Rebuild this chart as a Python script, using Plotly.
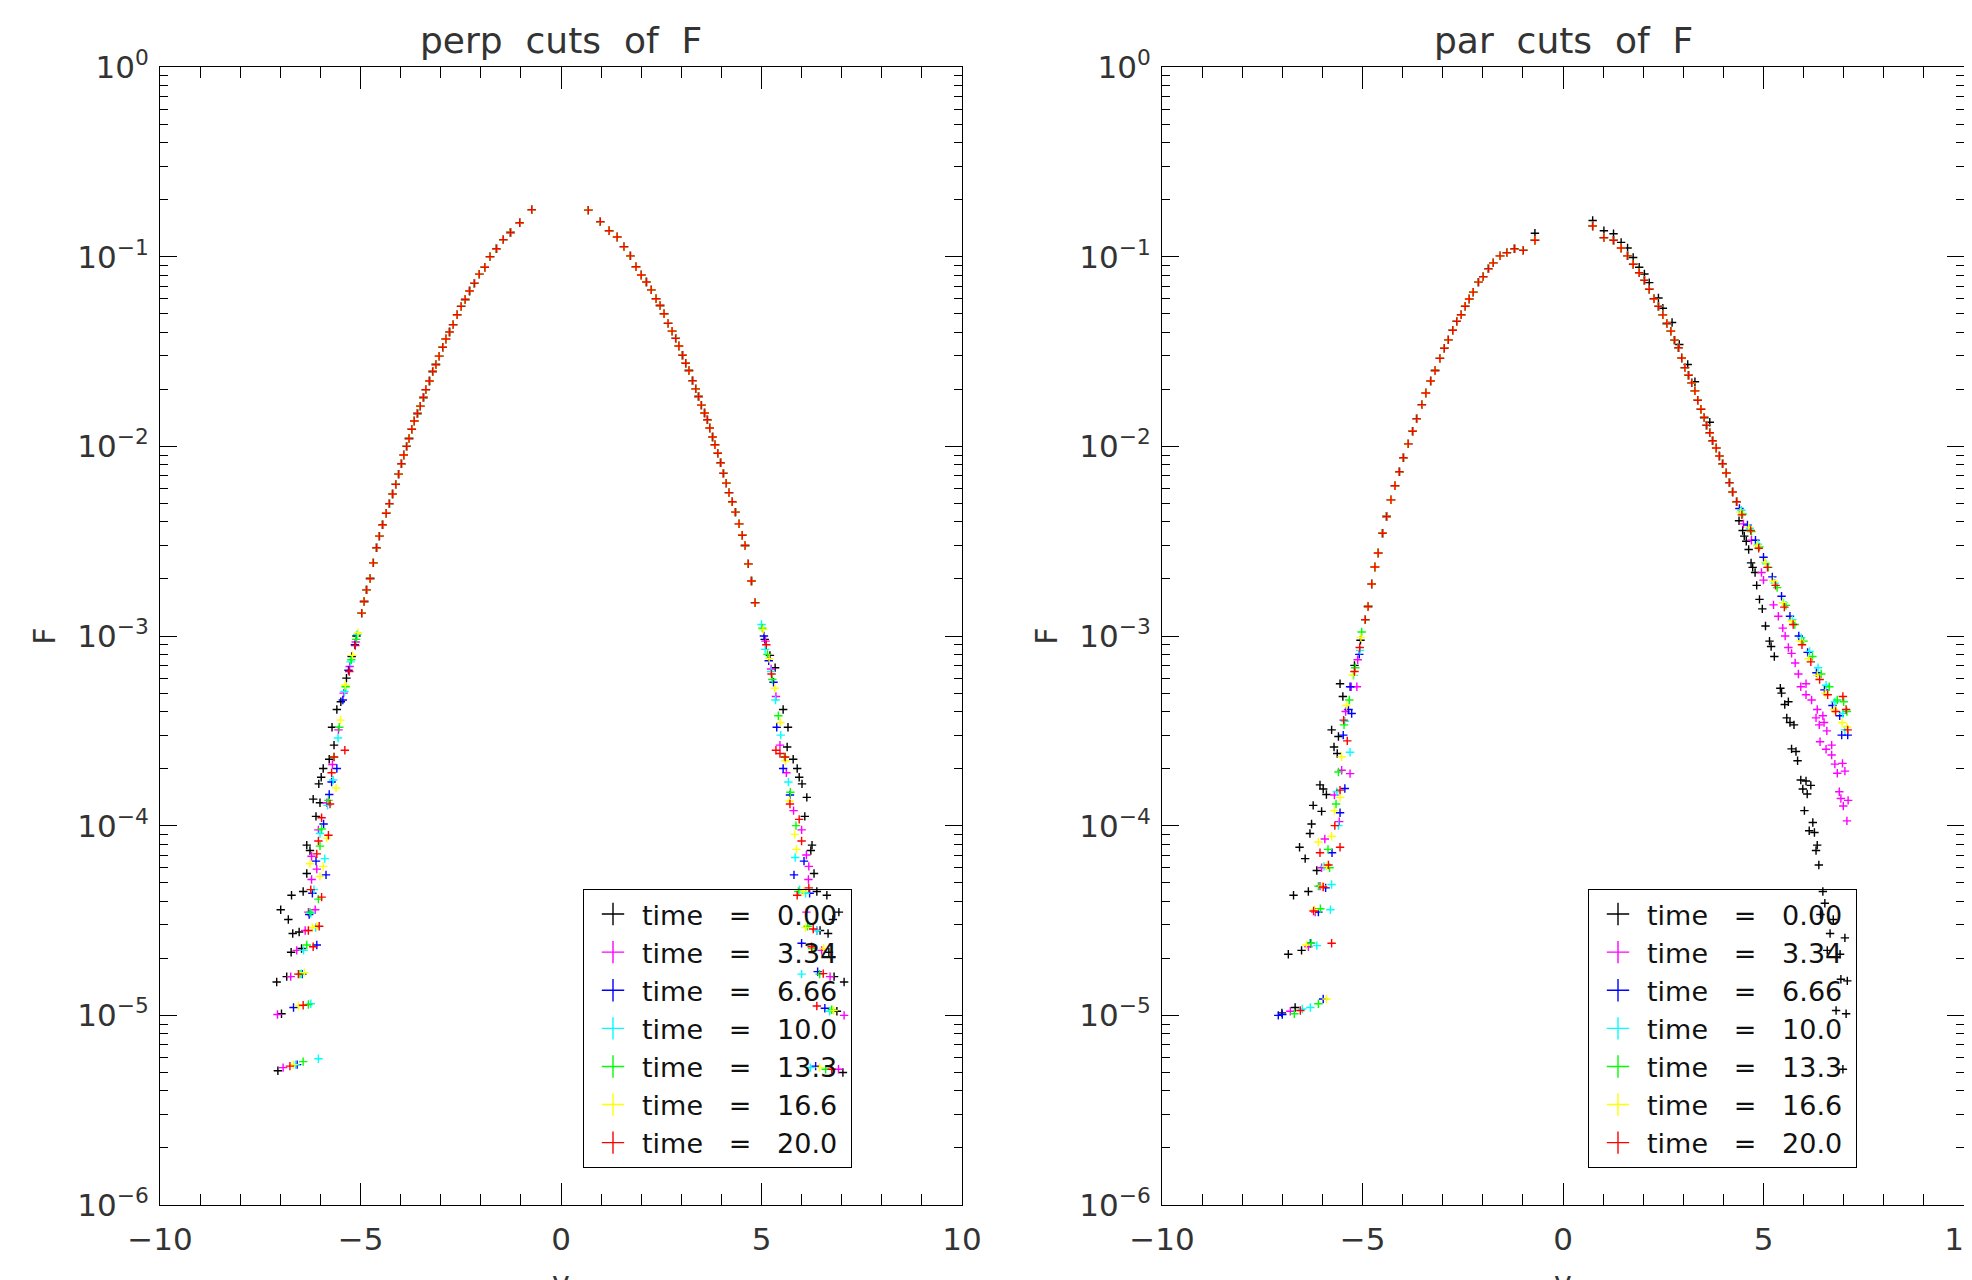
import plotly.graph_objects as go

# ---------------- data ----------------
TIME_LABELS = ["0.00", "3.34", "6.66", "10.0", "13.3", "16.6", "20.0"]
COLORS = ["#000000", "#ff00ff", "#0000ff", "#00ffff", "#00ff00", "#ffff00", "#ff0000"]
PANEL_TITLES = ["perp\u00a0\u00a0cuts\u00a0\u00a0of\u00a0\u00a0F", "par\u00a0\u00a0cuts\u00a0\u00a0of\u00a0\u00a0F"]
X_TITLE = "v"
Y_TITLE = "F"
X_TICKS = [-10, -5, 0, 5, 10]
Y_TICK_EXP = [0, -1, -2, -3, -4, -5, -6]

# perp panel: points shared by every time (curves overlap there)
PERP_CORE_V = [-0.73, -1.03, -1.26, -1.44, -1.61, -1.77, -1.90, -2.04, -2.16, -2.28,
               -2.39, -2.49, -2.59, -2.69, -2.78, -2.87, -2.95, -3.04, -3.12, -3.20,
               -3.28, -3.37, -3.43, -3.51, -3.58, -3.66, -3.72, -3.79, -3.85, -3.92, -3.98,
               -4.05, -4.12, -4.20, -4.28, -4.36, -4.45, -4.53, -4.60, -4.68, -4.76,
               -4.85, -4.91, -4.97,
               0.68, 0.98, 1.20, 1.40, 1.57, 1.73, 1.87, 2.00, 2.13, 2.25,
               2.37, 2.47, 2.57, 2.67, 2.77, 2.86, 2.94, 3.03, 3.11, 3.19,
               3.28, 3.36, 3.43, 3.50, 3.58, 3.65, 3.71, 3.78, 3.84, 3.91,
               3.98, 4.05, 4.12, 4.19, 4.27, 4.35, 4.44, 4.52, 4.59, 4.67,
               4.75, 4.84]
PERP_CORE_F = [0.177, 0.151, 0.134, 0.123, 0.110, 0.100, 0.0879, 0.0809, 0.0723, 0.0659,
               0.0594, 0.0547, 0.0494, 0.0438, 0.0401, 0.0368, 0.0333, 0.0299, 0.0270, 0.0248,
               0.0221, 0.0199, 0.0181, 0.0163, 0.0149, 0.0136, 0.0123, 0.0110, 0.0100, 0.0090, 0.0081,
               0.00714, 0.0063, 0.00561, 0.00499, 0.00444, 0.00386, 0.00336, 0.00292, 0.00243, 0.00201,
               0.00175, 0.00152, 0.00132,
               0.176, 0.153, 0.137, 0.127, 0.113, 0.101, 0.0885, 0.080, 0.0735, 0.0668,
               0.0600, 0.0553, 0.0500, 0.0445, 0.0405, 0.0371, 0.0338, 0.0302, 0.0274, 0.0251,
               0.0222, 0.0201, 0.0183, 0.0165, 0.0150, 0.0138, 0.0125, 0.0112, 0.0102, 0.0092,
               0.0082, 0.0072, 0.0064, 0.0057, 0.0051, 0.0045, 0.0039, 0.0034, 0.0030, 0.0024,
               0.00195, 0.00150]

# perp panel: tails, one list per time
PERP_TAIL_V = [
    [-5.10, -5.22, -5.35, -5.49, -5.59, -5.71, -5.66, -5.78, -5.93, -5.98, -6.04, -6.18, -6.01, -6.11,
     -6.34, -6.26, -6.34, -6.72, -6.43, -6.99, -6.80, -6.69, -6.53, -6.73, -6.47, -7.09, -6.84, -6.97, -7.06,
     5.08, 5.21, 5.34, 5.54, 5.66, 5.64, 5.79, 5.89, 5.94, 6.01, 6.13, 6.08, 6.26, 6.23, 6.31, 6.38,
     6.63, 6.93, 6.78, 6.46, 6.66, 6.68, 6.81, 7.06, 6.88, 7.03],
    [-5.12, -5.27, -5.42, -5.55, -5.70, -5.84, -6.05, -6.22, -6.09, -6.22, -6.30, -6.13, -6.38, -6.59,
     -6.74, -7.07, -6.93,
     5.10, 5.24, 5.36, 5.46, 5.62, 5.80, 6.00, 6.12, 6.18, 6.17, 6.12, 6.38, 6.50, 6.71, 7.06, 6.92],
    [-5.14, -5.30, -5.44, -5.59, -5.72, -5.78, -5.92, -6.11, -5.86, -6.20, -6.28, -6.09, -6.45, -6.67, -6.58,
     5.06, 5.18, 5.30, 5.38, 5.54, 5.71, 5.81, 6.06, 6.00, 6.20, 6.40, 6.58, 6.35],
    [-5.08, -5.25, -5.40, -5.56, -5.68, -5.82, -6.01, -5.89, -6.16, -6.24, -6.12, -6.42, -6.47, -6.24,
     -6.05, -6.62,
     5.00, 5.09, 5.24, 5.35, 5.48, 5.67, 5.84, 5.95, 6.10, 6.38, 6.00, 6.70, 6.22],
    [-5.11, -5.23, -5.37, -5.53, -5.66, -5.80, -5.97, -6.01, -6.05, -6.26, -6.34, -6.51, -6.30, -6.43,
     5.02, 5.15, 5.27, 5.42, 5.57, 5.72, 5.86, 5.92, 6.15, 6.26, 6.45, 6.75, 6.60],
    [-5.06, -5.20, -5.38, -5.50, -5.61, -5.84, -6.26, -5.93, -6.01, -6.09, -6.20, -6.55, -6.67, -6.40,
     5.04, 5.19, 5.33, 5.47, 5.60, 5.70, 5.83, 5.87, 6.05, 6.10, 6.55, 6.80, 6.45],
    [-5.13, -5.28, -5.39, -5.66, -5.72, -5.76, -5.97, -6.05, -5.80, -6.09, -6.24, -5.97, -6.30, -6.03,
     -6.18, -6.55, -6.43, -6.76,
     5.12, 5.25, 5.36, 5.46, 5.59, 5.71, 5.94, 6.00, 6.18, 5.89, 6.29, 6.25, 6.54, 6.38, 6.75],
]
PERP_TAIL_F = [
    [1.0e-3, 7.8e-4, 6.0e-4, 4.5e-4, 4.1e-4, 3.3e-4, 2.66e-4, 2.24e-4, 2.0e-4, 1.8e-4, 1.66e-4, 1.38e-4,
     1.32e-4, 1.12e-4, 7.9e-5, 7.4e-5, 5.6e-5, 4.3e-5, 4.5e-5, 3.6e-5, 3.2e-5, 2.7e-5, 2.75e-5, 2.15e-5,
     2.25e-5, 1.5e-5, 1.6e-5, 1.02e-5, 5.1e-6,
     9.6e-4, 7.9e-4, 6.8e-4, 4.1e-4, 3.3e-4, 2.6e-4, 2.24e-4, 2.0e-4, 1.8e-4, 1.66e-4, 1.41e-4, 1.12e-4,
     7.9e-5, 7.4e-5, 5.6e-5, 4.5e-5, 4.3e-5, 3.5e-5, 3.2e-5, 2.8e-5, 2.7e-5, 2.15e-5, 1.6e-5, 1.5e-5,
     1.05e-5, 5.0e-6],
    [9.3e-4, 6.9e-4, 5.0e-4, 3.2e-4, 2.1e-4, 1.32e-4, 9.5e-5, 6.9e-5, 5.9e-5, 5.2e-5, 3.5e-5, 3.6e-5,
     2.8e-5, 2.2e-5, 1.6e-5, 1.01e-5, 5.3e-6,
     9.4e-4, 6.7e-4, 4.8e-4, 2.66e-4, 1.9e-4, 1.2e-4, 9.5e-5, 7.0e-5, 6.1e-5, 5.2e-5, 3.5e-5, 2.8e-5,
     2.2e-5, 1.6e-5, 1.0e-5, 5.2e-6],
    [9.0e-4, 6.6e-4, 4.6e-4, 2.0e-4, 1.7e-4, 1.46e-4, 1.02e-4, 6.5e-5, 5.5e-5, 4.4e-5, 3.4e-5, 2.35e-5,
     1.65e-5, 1.1e-5, 5.5e-6,
     1.0e-3, 7.4e-4, 5.7e-4, 3.3e-4, 2.0e-4, 1.45e-4, 5.5e-5, 6.5e-5, 2.4e-5, 4.4e-5, 1.7e-5, 1.09e-5, 5.4e-6],
    [1.02e-3, 7.3e-4, 5.1e-4, 2.9e-4, 1.74e-4, 1.28e-4, 9.1e-5, 6.7e-5, 4.6e-5, 3.45e-5, 2.9e-5, 2.2e-5,
     1.66e-5, 1.15e-5, 5.9e-6, 5.5e-6,
     1.15e-3, 8.5e-4, 6.5e-4, 4.6e-4, 3.0e-4, 1.7e-4, 6.8e-5, 4.6e-5, 4.4e-5, 2.8e-5, 1.65e-5, 1.05e-5, 5.3e-6],
    [9.6e-4, 7.5e-4, 5.4e-4, 3.3e-4, 2.3e-4, 1.36e-4, 9.6e-5, 7.8e-5, 4.1e-5, 3.5e-5, 2.35e-5, 1.65e-5,
     1.14e-5, 5.7e-6,
     1.1e-3, 8.0e-4, 5.9e-4, 3.8e-4, 2.3e-4, 1.5e-4, 1.0e-4, 4.5e-5, 2.95e-5, 2.25e-5, 1.65e-5, 1.07e-5, 5.2e-6],
    [1.04e-3, 7.9e-4, 5.5e-4, 3.6e-4, 1.58e-4, 8.6e-5, 6.3e-5, 6.1e-5, 5.4e-5, 2.95e-5, 2.9e-5, 1.12e-5,
     5.5e-6, 1.68e-5,
     1.08e-3, 7.6e-4, 5.3e-4, 3.5e-4, 2.2e-4, 1.35e-4, 9.0e-5, 7.5e-5, 4.5e-5, 2.9e-5, 2.25e-5, 1.06e-5, 5.3e-6],
    [8.9e-4, 6.5e-4, 2.5e-4, 2.3e-4, 1.9e-4, 1.3e-4, 1.1e-4, 8.3e-5, 8.9e-5, 7.1e-5, 4.6e-5, 4.2e-5,
     2.8e-5, 2.95e-5, 2.3e-5, 1.65e-5, 1.13e-5, 5.4e-6,
     9.0e-4, 6.3e-4, 2.5e-4, 2.4e-4, 2.3e-4, 1.3e-4, 1.08e-4, 8.3e-5, 4.7e-5, 4.3e-5, 2.85e-5, 2.3e-5,
     1.66e-5, 1.12e-5, 5.2e-6],
]

# par panel: points shared by every time
PAR_CORE_V = [-0.70, -0.99, -1.21, -1.40, -1.57, -1.74, -1.86, -1.99, -2.11, -2.24,
              -2.34, -2.44, -2.54, -2.65, -2.75, -2.86, -2.96, -3.07, -3.19, -3.30,
              -3.42, -3.52, -3.65, -3.75, -3.86, -3.98, -4.08, -4.19, -4.29, -4.40,
              -4.50, -4.61, -4.69, -4.77, -4.86, -4.93,
              0.74, 1.02, 1.26, 1.45, 1.61, 1.75, 1.90, 2.03, 2.15, 2.27,
              2.38, 2.49, 2.59, 2.69, 2.78, 2.88, 2.96, 3.04, 3.13, 3.21,
              3.29, 3.36, 3.44, 3.52, 3.58, 3.66, 3.73, 3.82, 3.90, 3.98,
              4.07, 4.15, 4.23, 4.33]
PAR_CORE_F = [0.122, 0.108, 0.110, 0.105, 0.101, 0.0927, 0.0865, 0.0785, 0.0734, 0.065,
              0.0598, 0.0548, 0.0494, 0.0456, 0.0409, 0.0364, 0.0329, 0.0291, 0.0251, 0.0221,
              0.0191, 0.0166, 0.0140, 0.0120, 0.0103, 0.0087, 0.00735, 0.0062, 0.00522, 0.00427,
              0.00348, 0.00274, 0.00231, 0.00188, 0.00143, 0.00122,
              0.145, 0.126, 0.122, 0.111, 0.101, 0.0912, 0.0822, 0.075, 0.0673, 0.060,
              0.0547, 0.0493, 0.0444, 0.0405, 0.0363, 0.0331, 0.0292, 0.026, 0.0237, 0.0216,
              0.0196, 0.0175, 0.0157, 0.0142, 0.0129, 0.0118, 0.0107, 0.0098, 0.0089, 0.0081,
              0.00723, 0.00644, 0.00574, 0.0051]

# par panel: tails (and black's own offset points), one list per time
PAR_TAIL_V = [
    [-0.70, -5.05, -5.20, -5.56, -5.49, -5.77, -5.60, -5.71, -5.63, -6.06, -5.98, -5.90, -6.23, -6.02,
     -6.27, -6.31, -6.57, -6.43, -6.14, -6.72, -6.35, -6.85, -6.52, -6.68, -7.01,
     0.74, 1.02, 1.26, 1.45, 1.61, 1.75, 1.90, 2.03, 2.15, 2.38, 2.49, 2.72, 2.90, 3.11, 3.29, 3.66,
     4.39, 4.48, 4.52, 4.57, 4.63, 4.69, 4.73, 4.79, 4.83, 4.90, 4.97, 5.05, 5.15, 5.19, 5.27, 5.42,
     5.45, 5.53, 5.62, 5.58, 5.66, 5.76, 5.70, 5.81, 5.85, 5.93, 6.06, 6.18, 5.98, 6.09, 6.02, 6.23,
     6.14, 6.27, 6.34, 6.31, 6.38, 6.48, 6.53, 6.42, 6.74, 6.66, 7.03, 6.59, 6.91, 6.93, 7.09, 6.81,
     7.06, 6.98],
    [-5.12, -5.28, -5.14, -5.42, -5.52, -5.31, -5.70, -5.58, -5.94, -6.02, -6.06, -6.18, -6.35, -6.80,
     4.50, 4.70, 4.95, 5.00, 5.25, 5.37, 5.48, 5.54, 5.62, 5.70, 5.79, 5.87, 5.93, 6.06, 6.06, 6.20,
     6.34, 6.31, 6.48, 6.39, 6.51, 6.58, 6.41, 6.56, 6.70, 6.70, 6.78, 6.97, 6.84, 7.03, 6.89, 6.93,
     7.11, 6.99, 7.08],
    [-5.08, -5.31, -5.35, -5.27, -5.48, -5.44, -5.56, -5.76, -5.92, -6.10, -6.30, -5.98, -7.10, -7.00,
     4.40, 4.60, 4.80, 5.00, 5.22, 5.45, 5.66, 5.88, 6.10, 6.32, 6.52, 6.72, 6.90, 6.95, 7.10],
    [-5.06, -5.22, -5.44, -5.31, -5.64, -5.60, -5.77, -5.96, -6.14, -5.80, -6.50, -6.30,
     4.45, 4.66, 4.86, 5.06, 5.28, 5.50, 5.72, 5.94, 6.15, 6.36, 6.56, 6.78, 6.98, 7.03],
    [-5.02, -5.18, -5.33, -5.46, -5.60, -5.66, -5.82, -6.10, -5.86, -6.05, -6.28, -6.70, -6.10,
     4.48, 4.70, 4.90, 5.12, 5.34, 5.56, 5.78, 6.00, 6.22, 6.44, 6.64, 6.84, 7.00, 7.08],
    [-5.04, -5.25, -5.40, -5.52, -5.56, -5.70, -6.10, -5.77, -5.90, -6.00, -6.40, -5.90, -6.20,
     4.42, 4.63, 4.84, 5.04, 5.25, 5.48, 5.70, 5.92, 6.12, 6.34, 6.54, 6.76, 6.96, 7.08],
    [-5.07, -5.20, -5.38, -5.47, -5.56, -5.69, -5.56, -5.85, -6.06, -5.98, -5.77, -6.22, -6.55,
     4.46, 4.68, 4.88, 5.10, 5.30, 5.52, 5.74, 5.96, 6.18, 6.40, 6.60, 6.80, 6.98, 7.06, 7.10],
]
PAR_TAIL_F = [
    [0.133, 9.5e-4, 7.0e-4, 5.6e-4, 4.8e-4, 3.2e-4, 2.95e-4, 2.6e-4, 2.4e-4, 1.64e-4, 1.56e-4, 1.46e-4,
     1.28e-4, 1.19e-4, 1.02e-4, 9.1e-5, 7.7e-5, 6.7e-5, 5.8e-5, 4.3e-5, 4.5e-5, 2.1e-5, 2.2e-5, 1.1e-5, 1.03e-5,
     0.155, 0.137, 0.132, 0.119, 0.111, 0.099, 0.088, 0.081, 0.073, 0.0605, 0.0535, 0.045, 0.0344, 0.027,
     0.0219, 0.0134,
     4.05e-3, 3.6e-3, 3.36e-3, 3.16e-3, 2.86e-3, 2.43e-3, 2.3e-3, 2.16e-3, 1.85e-3, 1.56e-3, 1.39e-3,
     1.13e-3, 9.4e-4, 8.8e-4, 7.8e-4, 5.3e-4, 5.0e-4, 4.35e-4, 4.5e-4, 3.7e-4, 3.5e-4, 3.4e-4, 2.54e-4,
     2.46e-4, 2.2e-4, 1.74e-4, 1.72e-4, 1.63e-4, 1.56e-4, 1.47e-4, 1.2e-4, 1.04e-4, 9.4e-5, 9.2e-5, 7.9e-5,
     7.4e-5, 6.2e-5, 4.5e-5, 3.9e-5, 3.4e-5, 3.2e-5, 2.7e-5, 2.56e-5, 2.2e-5, 2.1e-5, 1.55e-5, 1.52e-5,
     1.06e-5, 1.02e-5, 5.2e-6],
    [7.5e-4, 5.4e-4, 5.4e-4, 4.0e-4, 1.96e-4, 1.88e-4, 1.45e-4, 1.05e-4, 8.5e-5, 6.0e-5, 4.8e-5, 3.5e-5,
     2.3e-5, 1.05e-5,
     3.9e-3, 3.2e-3, 2.16e-3, 1.97e-3, 1.46e-3, 1.27e-3, 1.1e-3, 1.0e-3, 8.7e-4, 8.1e-4, 7.2e-4, 6.3e-4,
     5.4e-4, 5.6e-4, 4.9e-4, 4.6e-4, 4.1e-4, 3.7e-4, 3.8e-4, 3.4e-4, 3.5e-4, 3.16e-4, 2.77e-4, 2.53e-4,
     2.66e-4, 2.36e-4, 2.11e-4, 2.13e-4, 1.89e-4, 1.94e-4, 1.51e-4, 1.39e-4, 1.36e-4, 1.27e-4, 1.06e-4],
    [8.0e-4, 5.4e-4, 4.1e-4, 3.9e-4, 3.0e-4, 1.57e-4, 1.17e-4, 7.2e-5, 4.7e-5, 3.5e-5, 2.4e-5, 1.22e-5,
     1.0e-5, 1.01e-5,
     4.7e-3, 3.85e-3, 3.2e-3, 2.6e-3, 2.05e-3, 1.62e-3, 1.27e-3, 1.0e-3, 8.2e-4, 6.4e-4, 5.2e-4, 4.3e-4,
     3.8e-4, 3.0e-4, 3.0e-4],
    [8.4e-4, 6.2e-4, 3.55e-4, 2.44e-4, 1.51e-4, 1.0e-4, 4.9e-5, 6.1e-5, 2.33e-5, 3.6e-5, 1.08e-5, 1.1e-5,
     4.6e-3, 3.7e-3, 3.05e-3, 2.4e-3, 1.9e-3, 1.5e-3, 1.22e-3, 9.8e-4, 8.3e-4, 6.8e-4, 5.5e-4, 4.5e-4,
     3.9e-4, 3.2e-4],
    [1.05e-3, 6.8e-4, 4.6e-4, 3.4e-4, 1.92e-4, 1.3e-4, 6.0e-5, 4.8e-5, 7.5e-5, 3.65e-5, 2.4e-5, 1.02e-5, 1.15e-5,
     4.4e-3, 3.55e-3, 2.95e-3, 2.3e-3, 1.8e-3, 1.45e-3, 1.15e-3, 9.4e-4, 7.8e-4, 6.3e-4, 5.4e-4, 4.6e-4,
     4.5e-4, 4.0e-4],
    [9.8e-4, 6.2e-4, 4.3e-4, 2.31e-4, 1.41e-4, 1.2e-4, 8.2e-5, 8.8e-5, 6.1e-5, 4.8e-5, 2.35e-5, 1.22e-5, 3.6e-5,
     4.5e-3, 3.75e-3, 3.0e-3, 2.45e-3, 1.95e-3, 1.5e-3, 1.2e-3, 9.4e-4, 7.6e-4, 6.2e-4, 5.0e-4, 4.1e-4,
     3.5e-4, 3.3e-4],
    [8.7e-4, 6.5e-4, 2.8e-4, 3.6e-4, 1.54e-4, 1.0e-4, 7.7e-5, 6.2e-5, 7.2e-5, 4.75e-5, 2.4e-5, 3.55e-5, 1.06e-5,
     4.35e-3, 3.6e-3, 2.9e-3, 2.3e-3, 1.85e-3, 1.42e-3, 1.15e-3, 9.0e-4, 7.3e-4, 5.9e-4, 4.9e-4, 4.0e-4,
     4.8e-4, 4.1e-4, 3.2e-4],
]

# ---------------- figure ----------------
W, H = 1972, 1280
PAGE_OFFSET = 8  # default body margin of the html page
FONT = "DejaVu Sans"
TXT = "#333333"

def px_x(p):
    return (p - PAGE_OFFSET) / W

def px_y(p):
    return 1 - (p - PAGE_OFFSET) / H

X_DOMAINS = [[px_x(160), px_x(962)], [px_x(1162), px_x(1964)]]
Y_DOMAIN = [px_y(1205), px_y(67)]

fig = go.Figure()

panels = [(PERP_CORE_V, PERP_CORE_F, PERP_TAIL_V, PERP_TAIL_F),
          (PAR_CORE_V, PAR_CORE_F, PAR_TAIL_V, PAR_TAIL_F)]
for p, (cv, cf, tv, tf) in enumerate(panels):
    xa = "x" if p == 0 else "x2"
    ya = "y" if p == 0 else "y2"
    leg = "legend" if p == 0 else "legend2"
    for k in range(len(TIME_LABELS)):
        fig.add_trace(go.Scatter(
            x=cv + tv[k], y=cf + tf[k], mode="markers",
            marker=dict(symbol="cross-thin", size=6, color=COLORS[k],
                        line=dict(width=1.4, color=COLORS[k])),
            xaxis=xa, yaxis=ya, showlegend=False, hoverinfo="skip"))
    for k in range(len(TIME_LABELS)):
        fig.add_trace(go.Scatter(
            x=[None], y=[None], mode="markers",
            name="time\u00a0\u00a0\u00a0=\u00a0\u00a0\u00a0" + TIME_LABELS[k] + "\u00a0",
            marker=dict(symbol="cross-thin", size=16, color=COLORS[k],
                        line=dict(width=1.4, color=COLORS[k])),
            xaxis=xa, yaxis=ya, showlegend=True, legend=leg))

minor_y = [m * 10.0 ** e for e in range(-6, 0) for m in range(2, 10)]
ytext = ["10<sup>" + (str(e) if e >= 0 else "\u2212" + str(-e)) + "</sup>" for e in Y_TICK_EXP]

def xaxis_cfg(dom, anchor):
    return dict(domain=dom, anchor=anchor, range=[-10, 10], tickmode="array", tickvals=X_TICKS,
                ticks="inside", ticklen=22, tickwidth=1, tickcolor="#000",
                minor=dict(ticks="inside", ticklen=11, tickwidth=1, tickcolor="#000",
                           tickmode="linear", tick0=0, dtick=1),
                showline=True, linecolor="#000", linewidth=1, mirror="allticks",
                showgrid=False, zeroline=False, ticklabelstandoff=7, automargin=False,
                ticklabeloverflow="allow",
                tickfont=dict(family=FONT, size=31, color=TXT))

def yaxis_cfg(anchor):
    return dict(domain=Y_DOMAIN, anchor=anchor, type="log", range=[-6, 0], tickmode="array",
                tickvals=[10.0 ** e for e in Y_TICK_EXP], ticktext=ytext,
                ticks="inside", ticklen=17, tickwidth=1, tickcolor="#000",
                minor=dict(ticks="inside", ticklen=8, tickwidth=1, tickcolor="#000",
                           tickmode="array", tickvals=minor_y),
                showline=True, linecolor="#000", linewidth=1, mirror="allticks",
                showgrid=False, zeroline=False, ticklabelstandoff=4, automargin=False,
                ticklabeloverflow="allow",
                tickfont=dict(family=FONT, size=31, color=TXT),
                title=dict(text=Y_TITLE, font=dict(family=FONT, size=30, color=TXT), standoff=12))

legend_common = dict(bgcolor="rgba(0,0,0,0)", bordercolor="#000", borderwidth=1,
                     font=dict(family=FONT, size=27, color="#111111"), xanchor="left", yanchor="top",
                     itemsizing="trace", itemwidth=48, tracegroupgap=0)

annotations = []
for i in range(2):
    xc = (X_DOMAINS[i][0] + X_DOMAINS[i][1]) / 2
    annotations.append(dict(text=PANEL_TITLES[i], x=xc, y=px_y(40), xref="paper", yref="paper",
                            xanchor="center", yanchor="middle", showarrow=False,
                            font=dict(family=FONT, size=36, color=TXT)))
    annotations.append(dict(text=X_TITLE, x=xc, y=px_y(1263), xref="paper", yref="paper",
                            xanchor="center", yanchor="top", showarrow=False,
                            font=dict(family=FONT, size=30, color=TXT)))

fig.update_layout(
    width=W, height=H, margin=dict(l=0, r=0, t=0, b=0, autoexpand=False),
    paper_bgcolor="white", plot_bgcolor="white",
    xaxis=xaxis_cfg(X_DOMAINS[0], "y"), yaxis=yaxis_cfg("x"),
    xaxis2=xaxis_cfg(X_DOMAINS[1], "y2"), yaxis2=yaxis_cfg("x2"),
    legend=dict(x=px_x(583), y=px_y(889), **legend_common),
    legend2=dict(x=px_x(1588), y=px_y(889), **legend_common),
    annotations=annotations,
)

fig.write_html("out.html")
